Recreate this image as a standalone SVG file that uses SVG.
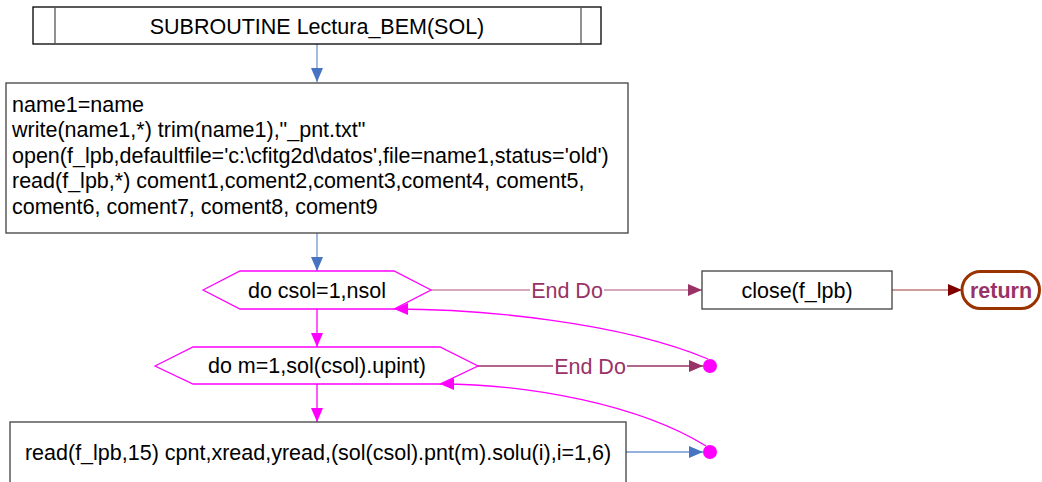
<svg xmlns="http://www.w3.org/2000/svg" width="1042" height="482" viewBox="0 0 1042 482">
<style>
text{font-family:"Liberation Sans",Arial,sans-serif;font-size:21.5px;fill:#000}
.c{text-anchor:middle}
.box{fill:#fff;stroke:#404040;stroke-width:1.3}
.hex{fill:#fff;stroke:#ff00ff;stroke-width:1.3}
.blue{stroke:#7196d0;stroke-width:1.3;fill:none}
.mag{stroke:#ff00ff;stroke-width:1.3;fill:none}
.lbl{fill:#993366;text-anchor:middle}
</style>
<defs>
<marker id="aBlue" markerUnits="userSpaceOnUse" markerWidth="15" markerHeight="13" refX="14" refY="6" orient="auto"><path d="M0,0 L14,6 L0,12 z" fill="#4674c0"/></marker>
<marker id="aMag" markerUnits="userSpaceOnUse" markerWidth="15" markerHeight="13" refX="14" refY="6" orient="auto"><path d="M0,0 L14,6 L0,12 z" fill="#ff00ff"/></marker>
<marker id="aPur" markerUnits="userSpaceOnUse" markerWidth="15" markerHeight="13" refX="14" refY="6" orient="auto"><path d="M0,0 L14,6 L0,12 z" fill="#993366"/></marker>
<marker id="aRed" markerUnits="userSpaceOnUse" markerWidth="15" markerHeight="13" refX="14" refY="6" orient="auto"><path d="M0,0 L14,6 L0,12 z" fill="#800000"/></marker>
</defs>
<rect width="1042" height="482" fill="#fff"/>

<g id="connectors">
<line class="blue" x1="317" y1="44" x2="317" y2="82" marker-end="url(#aBlue)"/>
<line class="blue" x1="317" y1="233" x2="317" y2="271" marker-end="url(#aBlue)"/>
<line x1="431" y1="290" x2="702" y2="290" stroke="#c98aa8" stroke-width="1.5" marker-end="url(#aPur)"/>
<rect x="530" y="278" width="74" height="24" fill="#fff"/>
<text class="lbl" x="567" y="297.5">End Do</text>
<line x1="892" y1="290" x2="962" y2="290" stroke="#c07b7b" stroke-width="1.5" marker-end="url(#aRed)"/>
<line class="mag" x1="317" y1="309" x2="317" y2="347" marker-end="url(#aMag)"/>
<line x1="478" y1="366" x2="703" y2="366" stroke="#993366" stroke-width="1.3" marker-end="url(#aPur)"/>
<rect x="553" y="354" width="74" height="24" fill="#fff"/>
<text class="lbl" x="590" y="373.5">End Do</text>
<path class="mag" d="M708,359 C620,322 480,309 394,309" marker-end="url(#aMag)"/>
<line class="mag" x1="317" y1="384" x2="317" y2="422" marker-end="url(#aMag)"/>
<line class="blue" x1="626" y1="452" x2="703" y2="452" marker-end="url(#aBlue)"/>
<path class="mag" d="M706,446 C640,405 530,384 440,384" marker-end="url(#aMag)"/>
</g>

<g id="n_subroutine">
<rect x="33" y="7" width="568" height="37" fill="#fff" stroke="#000" stroke-width="1.3"/>
<line x1="55" y1="7" x2="55" y2="44" stroke="#555" stroke-width="1.3"/>
<line x1="581" y1="7" x2="581" y2="44" stroke="#555" stroke-width="1.3"/>
<text class="c" x="317" y="33.5">SUBROUTINE Lectura_BEM(SOL)</text>
</g>

<g id="n_init">
<rect class="box" x="6" y="83" width="622" height="150"/>
<text x="12" y="111.5">name1=name</text>
<text x="12" y="137">write(name1,*) trim(name1),"_pnt.txt"</text>
<text x="12" y="162.5">open(f_lpb,defaultfile='c:\cfitg2d\datos',file=name1,status='old')</text>
<text x="12" y="188">read(f_lpb,*) coment1,coment2,coment3,coment4, coment5,</text>
<text x="12" y="213.5">coment6, coment7, coment8, coment9</text>
</g>

<g id="n_do_csol">
<polygon class="hex" points="203,290 240,271 394,271 431,290 394,309 240,309"/>
<text class="c" x="317" y="297.5">do csol=1,nsol</text>
</g>

<g id="n_close">
<rect class="box" x="702" y="271" width="190" height="38"/>
<text class="c" x="797" y="297.5">close(f_lpb)</text>
</g>

<g id="n_return">
<rect x="962" y="271.5" width="77.5" height="37" rx="18.5" fill="#fff" stroke="#993300" stroke-width="3"/>
<text class="c" x="1001" y="297.5" style="font-weight:bold;fill:#993366">return</text>
</g>

<g id="n_do_m">
<polygon class="hex" points="155,366 193,347 440,347 478,366 440,384 193,384"/>
<text class="c" x="317" y="373">do m=1,sol(csol).upint)</text>
</g>

<g id="n_end1">
<circle cx="710" cy="366" r="7" fill="#ff00ff"/>
</g>

<g id="n_read">
<rect class="box" x="10" y="422" width="616" height="80"/>
<text class="c" x="318" y="459.5">read(f_lpb,15) cpnt,xread,yread,(sol(csol).pnt(m).solu(i),i=1,6)</text>
</g>

<g id="n_end2">
<circle cx="710" cy="452" r="7" fill="#ff00ff"/>
</g>
</svg>
